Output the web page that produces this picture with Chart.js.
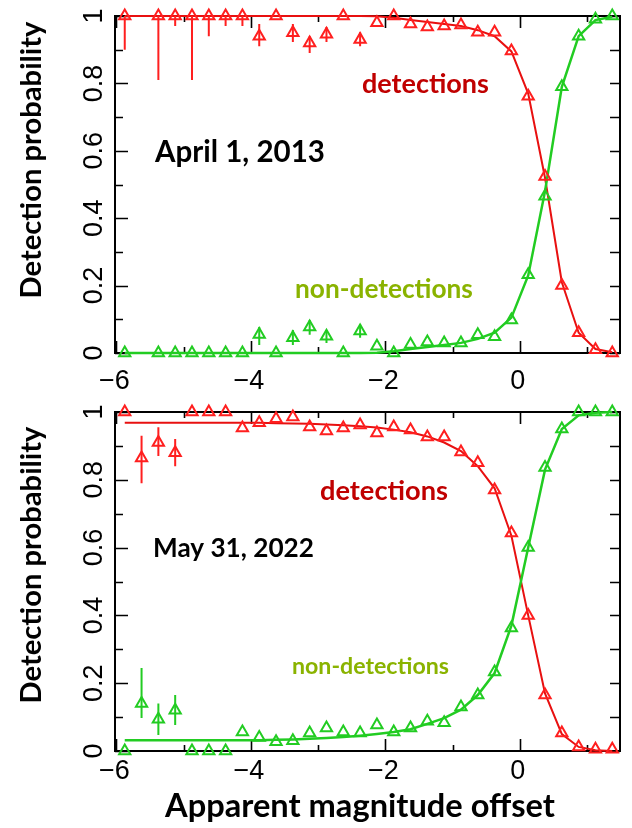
<!DOCTYPE html>
<html>
<head>
<meta charset="utf-8">
<script src="https://cdn.jsdelivr.net/npm/chart.js@4.4.1/dist/chart.umd.min.js"></script>
<style>
  html, body { margin: 0; padding: 0; background: #fff; }
  #wrap { position: relative; width: 632px; height: 828px; overflow: hidden; }
  canvas { position: absolute; left: 0; }
</style>
</head>
<body>
<div id="wrap">
  <canvas id="panel2013" width="632" height="400" style="top:0px"></canvas>
  <canvas id="panel2022" width="632" height="428" style="top:400px"></canvas>
</div>
<script>
// Bin centres in apparent magnitude offset
const offsets = [-5.875, -5.625, -5.375, -5.125, -4.875, -4.625, -4.375, -4.125, -3.875, -3.625,
                 -3.375, -3.125, -2.875, -2.625, -2.375, -2.125, -1.875, -1.625, -1.375, -1.125,
                 -0.875, -0.625, -0.375, -0.125, 0.125, 0.375, 0.625, 0.875, 1.125, 1.375];

// ---- April 1, 2013 ----
const det2013 = [1.0, null, 1.0, 1.0, 1.0, 1.0, 1.0, 1.0, 0.94, 1.0,
                 0.95, 0.92, 0.946, 1.0, 0.93, 0.98, 1.0, 0.976, 0.967, 0.97,
                 0.973, 0.952, 0.952, 0.896, 0.762, 0.524, 0.20, 0.06, 0.01, 0.0];
const nondet2013 = [0.0, null, 0.0, 0.0, 0.0, 0.0, 0.0, 0.0, 0.055, 0.0,
                    0.045, 0.077, 0.05, 0.0, 0.065, 0.02, 0.0, 0.025, 0.033, 0.03,
                    0.03, 0.054, 0.048, 0.098, 0.232, 0.465, 0.79, 0.94, 0.99, 1.0];
const detFit2013 = [1.0, 1.0, 1.0, 1.0, 1.0, 1.0, 1.0, 1.0, 1.0, 1.0,
                    1.0, 1.0, 1.0, 1.0, 1.0, 0.999, 0.995, 0.988, 0.982, 0.976,
                    0.97, 0.958, 0.94, 0.895, 0.77, 0.52, 0.21, 0.06, 0.012, 0.002];
const nondetFit2013 = [0.0, 0.0, 0.0, 0.0, 0.0, 0.0, 0.0, 0.0, 0.0, 0.0,
                       0.0, 0.0, 0.0, 0.0, 0.0, 0.001, 0.005, 0.012, 0.018, 0.024,
                       0.03, 0.042, 0.06, 0.105, 0.23, 0.48, 0.79, 0.94, 0.988, 0.998];
const detLo2013 = [0.90, null, 0.81, 0.97, 0.81, 0.94, 0.97, 0.97, 0.91, null,
                   0.923, 0.89, 0.923, null, 0.91, null, null, null, null, null,
                   null, null, null, null, null, null, null, null, null, null];
const detHi2013 = [1.0, null, 1.0, 1.0, 1.0, 1.0, 1.0, 1.0, 0.976, null,
                   0.976, 0.94, 0.967, null, 0.952, null, null, null, null, null,
                   null, null, null, null, null, null, null, null, null, null];
const nondetLo2013 = [null, null, null, null, null, null, null, null, 0.024, null,
                      0.024, 0.054, 0.03, null, 0.045, null, null, null, null, null,
                      null, null, null, null, null, null, null, null, null, null];
const nondetHi2013 = [null, null, null, null, null, null, null, null, 0.077, null,
                      0.068, 0.098, 0.068, null, 0.085, null, null, null, null, null,
                      null, null, null, null, null, null, null, null, null, null];

// ---- May 31, 2022 ----
const det2022 = [1.0, 0.864, 0.91, 0.88, 1.0, 1.0, 1.0, 0.953, 0.968, 0.98,
                 0.985, 0.956, 0.944, 0.953, 0.962, 0.938, 0.956, 0.947, 0.926, 0.926,
                 0.882, 0.85, 0.77, 0.643, 0.40, 0.165, 0.053, 0.012, 0.005, 0.005];
const nondet2022 = [0.0, 0.14, 0.094, 0.12, 0.0, 0.0, 0.0, 0.056, 0.04, 0.027,
                    0.03, 0.053, 0.068, 0.056, 0.053, 0.077, 0.056, 0.068, 0.088, 0.083,
                    0.13, 0.165, 0.233, 0.363, 0.60, 0.836, 0.95, 1.0, 1.0, 1.0];
const detFit2022 = [0.968, 0.968, 0.968, 0.968, 0.968, 0.968, 0.968, 0.968, 0.968, 0.967,
                    0.966, 0.965, 0.963, 0.961, 0.958, 0.954, 0.948, 0.94, 0.928, 0.91,
                    0.885, 0.84, 0.775, 0.635, 0.40, 0.17, 0.05, 0.012, 0.002, 0.0];
const nondetFit2022 = [0.032, 0.032, 0.032, 0.032, 0.032, 0.032, 0.032, 0.032, 0.032, 0.033,
                       0.034, 0.036, 0.038, 0.041, 0.045, 0.05, 0.056, 0.064, 0.08, 0.097,
                       0.122, 0.165, 0.23, 0.37, 0.60, 0.83, 0.95, 0.99, 0.998, 1.0];
const detLo2022 = [null, 0.79, 0.87, 0.84, null, null, null, null, null, null,
                   null, null, null, null, null, null, null, null, null, null,
                   null, null, null, null, null, null, null, null, null, null];
const detHi2022 = [null, 0.93, 0.955, 0.92, null, null, null, null, null, null,
                   null, null, null, null, null, null, null, null, null, null,
                   null, null, null, null, null, null, null, null, null, null];
const nondetLo2022 = [null, 0.097, 0.047, 0.077, null, null, null, null, null, null,
                      null, null, null, null, null, null, null, null, null, null,
                      null, null, null, null, null, null, null, null, null, null];
const nondetHi2022 = [null, 0.245, 0.14, 0.165, null, null, null, null, null, null,
                      null, null, null, null, null, null, null, null, null, null,
                      null, null, null, null, null, null, null, null, null, null];

// Axis ticks
const xTickValues = [-6, -5, -4, -3, -2, -1, 0, 1];
const xLabelValues = [-6, -4, -2, 0];
const xLabels = ['\u22126', '\u22124', '\u22122', '0'];
const yTickValues = [0, 0.1, 0.2, 0.3, 0.4, 0.5, 0.6, 0.7, 0.8, 0.9, 1];
const yLabelValues = [0, 0.2, 0.4, 0.6, 0.8, 1];
const yLabels = ['0', '0.2', '0.4', '0.6', '0.8', '1'];

const RED = '#ff1f1f';
const RED_LINE = '#e81010';
const GREEN = '#22cc22';
const TEXT_FONT = 'Lato, "Open Sans", sans-serif';
const TICK_FONT = '"Liberation Sans", Arial, sans-serif';

const toPoints = arr => offsets.map((x, i) => ({ x: x, y: arr[i] })).filter(p => p.y !== null);

// Bold text sized so that it spans the given width
function fitText(ctx, text, width) {
  ctx.font = 'bold 30px ' + TEXT_FONT;
  const size = 30 * width / ctx.measureText(text).width;
  ctx.font = 'bold ' + size.toFixed(2) + 'px ' + TEXT_FONT;
}

function makePanel(canvasId, cfg) {
  const decor = {
    id: 'panelDecor',
    beforeDatasetsDraw(chart) {
      const { ctx, chartArea: a, scales: { x, y } } = chart;
      ctx.save();
      ctx.strokeStyle = '#000';
      ctx.lineWidth = 2;
      ctx.strokeRect(a.left, a.top, a.right - a.left, a.bottom - a.top);
      ctx.lineWidth = 1.6;
      ctx.beginPath();
      xTickValues.forEach(v => {
        const px = Math.round(x.getPixelForValue(v)) + 0.5;
        const len = xLabelValues.includes(v) ? 12 : 6;
        ctx.moveTo(px, a.bottom); ctx.lineTo(px, a.bottom - len);
        ctx.moveTo(px, a.top); ctx.lineTo(px, a.top + len);
      });
      yTickValues.forEach(v => {
        const py = Math.round(y.getPixelForValue(v)) + 0.5;
        const len = yLabelValues.includes(v) ? 13 : 8;
        ctx.moveTo(a.left, py); ctx.lineTo(a.left + len, py);
        ctx.moveTo(a.right, py); ctx.lineTo(a.right - 10, py);
      });
      ctx.stroke();
      ctx.restore();
    },
    afterDatasetsDraw(chart) {
      const { ctx, scales: { x, y } } = chart;
      ctx.save();
      ctx.lineWidth = 2;
      cfg.errors.forEach(e => {
        ctx.strokeStyle = e.color;
        ctx.beginPath();
        offsets.forEach((xv, i) => {
          if (e.lo[i] === null || e.hi[i] === null) return;
          const px = x.getPixelForValue(xv);
          ctx.moveTo(px, y.getPixelForValue(e.lo[i]));
          ctx.lineTo(px, y.getPixelForValue(e.hi[i]));
        });
        ctx.stroke();
      });
      ctx.restore();
    },
    afterDraw(chart) {
      const { ctx, chartArea: a, scales: { x, y } } = chart;
      ctx.save();
      // tick labels
      ctx.fillStyle = '#000';
      ctx.font = '27px ' + TICK_FONT;
      ctx.textAlign = 'center';
      ctx.textBaseline = 'middle';
      xLabelValues.forEach((v, i) => {
        ctx.fillText(xLabels[i], x.getPixelForValue(v) - 2, a.bottom + cfg.xLabelGap);
      });
      yLabelValues.forEach((v, i) => {
        ctx.save();
        ctx.translate(95, y.getPixelForValue(v));
        ctx.rotate(-Math.PI / 2);
        ctx.fillText(yLabels[i], 0, 0);
        ctx.restore();
      });
      // y axis title
      ctx.save();
      fitText(ctx, 'Detection probability', 277);
      ctx.translate(32, cfg.yTitleY);
      ctx.rotate(-Math.PI / 2);
      ctx.fillText('Detection probability', 0, 0);
      ctx.restore();
      // annotations
      ctx.textAlign = 'left';
      ctx.textBaseline = 'alphabetic';
      cfg.notes.forEach(n => {
        fitText(ctx, n.text, n.w);
        ctx.fillStyle = n.color;
        ctx.fillText(n.text, n.x, n.y);
      });
      if (cfg.xTitle) {
        fitText(ctx, cfg.xTitle.text, cfg.xTitle.w);
        ctx.fillStyle = '#000';
        ctx.textAlign = 'center';
        ctx.textBaseline = 'middle';
        ctx.fillText(cfg.xTitle.text, cfg.xTitle.x, cfg.xTitle.y);
      }
      ctx.restore();
    }
  };

  return new Chart(document.getElementById(canvasId), {
    type: 'scatter',
    data: {
      datasets: [
        { label: 'non-detections', data: toPoints(cfg.nondet), pointStyle: 'triangle', pointRadius: 6.5,
          borderColor: GREEN, borderWidth: 2, backgroundColor: 'rgba(0,0,0,0)', clip: false, order: 0 },
        { label: 'detections', data: toPoints(cfg.det), pointStyle: 'triangle', pointRadius: 6.5,
          borderColor: RED, borderWidth: 2, backgroundColor: 'rgba(0,0,0,0)', clip: false, order: 1 },
        { label: 'non-detections fit', data: toPoints(cfg.nondetFit), showLine: true, pointRadius: 0,
          borderColor: GREEN, borderWidth: 2.5, tension: 0, clip: false, order: 2 },
        { label: 'detections fit', data: toPoints(cfg.detFit), showLine: true, pointRadius: 0,
          borderColor: RED_LINE, borderWidth: 2, tension: 0, clip: false, order: 3 }
      ]
    },
    options: {
      responsive: false,
      animation: false,
      devicePixelRatio: 1,
      layout: { padding: cfg.padding },
      scales: {
        x: { type: 'linear', display: false, min: -6.02, max: 1.49 },
        y: { type: 'linear', display: false, min: 0, max: 1 }
      },
      plugins: { legend: { display: false }, tooltip: { enabled: false } },
      elements: { point: { hoverRadius: 6.5 } }
    },
    plugins: [decor]
  });
}

makePanel('panel2013', {
  det: det2013, nondet: nondet2013, detFit: detFit2013, nondetFit: nondetFit2013,
  errors: [
    { lo: detLo2013, hi: detHi2013, color: RED },
    { lo: nondetLo2013, hi: nondetHi2013, color: GREEN }
  ],
  padding: { left: 115, right: 12, top: 16, bottom: 47 },
  xLabelGap: 29,
  yTitleY: 160,
  notes: [
    { text: 'detections', x: 362, y: 93, w: 127, color: '#c00000' },
    { text: 'April 1, 2013', x: 155, y: 162, w: 170, color: '#000' },
    { text: 'non-detections', x: 295, y: 298, w: 178, color: '#8ab300' }
  ]
});

makePanel('panel2022', {
  det: det2022, nondet: nondet2022, detFit: detFit2022, nondetFit: nondetFit2022,
  errors: [
    { lo: detLo2022, hi: detHi2022, color: RED },
    { lo: nondetLo2022, hi: nondetHi2022, color: GREEN }
  ],
  padding: { left: 115, right: 12, top: 12, bottom: 77 },
  xLabelGap: 21,
  yTitleY: 165,
  notes: [
    { text: 'detections', x: 320, y: 100, w: 128, color: '#c00000' },
    { text: 'May 31, 2022', x: 153, y: 157, w: 161, color: '#000' },
    { text: 'non-detections', x: 292, y: 274, w: 157, color: '#8ab300' }
  ],
  xTitle: { text: 'Apparent magnitude offset', x: 360, y: 406, w: 390 }
});
</script>
</body>
</html>
